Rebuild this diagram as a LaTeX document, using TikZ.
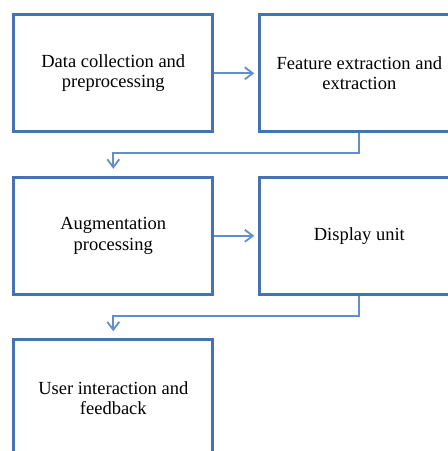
\documentclass[tikz,border=0pt]{standalone}
\usepackage{fontspec}
\setmainfont{Liberation Serif}
\usetikzlibrary{arrows.meta}
\definecolor{stageBlue}{RGB}{68,114,178}
\definecolor{flowBlue}{RGB}{98,143,202}
\begin{document}
\begin{tikzpicture}[x=1pt,y=1pt]
\tikzset{
    stageBox/.style={rectangle,draw=stageBlue,line width=3pt,minimum width=199pt,minimum height=117pt,align=center,inner sep=0pt,font=\fontsize{18.5}{20.5}\selectfont},
    stageFlow/.style={draw=flowBlue,line width=1.8pt,-{Straight Barb[length=8pt,width=12pt,line width=1.8pt]}},
}
\useasboundingbox (0,0) rectangle (448,-451);

\node[stageBox] (dataColl) at (113.3,-73.3) {Data collection and\\preprocessing};
\node[stageBox] (featExt) at (359.3,-73.3) {Feature extraction and\\extraction};

\node[stageBox] (augProc) at (113.3,-235.8) {Augmentation\\processing};
\node[stageBox] (dispUnit) at (359.3,-235.8) {Display unit};

\node[stageBox] (userInt) at (113.3,-398.3) {User interaction and\\feedback};

\draw[stageFlow,shorten >=4pt] (dataColl.east) -- (featExt.west);
\draw[stageFlow,shorten >=4pt] (augProc.east) -- (dispUnit.west);
\draw[stageFlow,shorten >=7pt] (featExt.south) -- ++(0,-20) -| (augProc.north);
\draw[stageFlow,shorten >=7pt] (dispUnit.south) -- ++(0,-20) -| (userInt.north);
\end{tikzpicture}
\end{document}
